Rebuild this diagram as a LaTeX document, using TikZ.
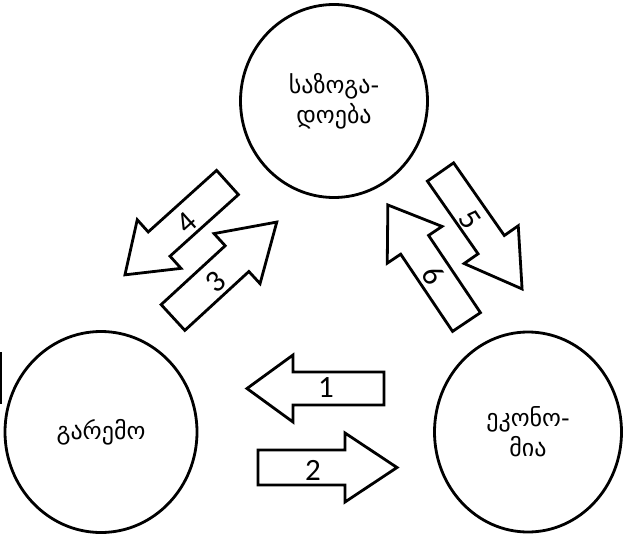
\documentclass[tikz,border=0pt]{standalone}
\usepackage{fontspec}
\setmainfont{DejaVu Sans}
\newfontfamily\digitfont{Carlito}
\usetikzlibrary{shapes.geometric}
\tikzset{
  arrowline/.style={line width=2.8pt, line join=miter, fill=white},
  pics/blockarrow/.style n args={4}{code={
    \draw[arrowline] (0,-#2) -- ({#1-#4},-#2) -- ({#1-#4},-#3) -- (#1,0)
      -- ({#1-#4},#3) -- ({#1-#4},#2) -- (0,#2) -- cycle;
  }},
  bubble/.style={draw, ellipse, line width=2.8pt, inner sep=0pt, align=center,
    font=\fontsize{24}{30}\selectfont},
  numlabel/.style={font=\digitfont\fontsize{31}{31}\selectfont, inner sep=0pt}
}
\begin{document}
\begin{tikzpicture}[x=1pt,y=-1pt]
\useasboundingbox (0,0) rectangle (623,535);
% circles
\node[bubble, minimum width=187pt, minimum height=193pt] (soc) at (334,101) {საზოგა-\\დოება};
\node[bubble, minimum width=192pt, minimum height=201pt] (env) at (101,432) {გარემო};
\node[bubble, minimum width=187pt, minimum height=200pt] (eco) at (528,432) {ეკონო-\\მია};
% left edge fragment
\draw[line width=2.5pt] (1,352) -- (1,404);
% block arrows
\pic (a1) [shift={(384,388.5)}, rotate=180] {blockarrow={137}{16.5}{33.5}{46}};
\pic (a2) [shift={(258,467.5)}, rotate=0] {blockarrow={139}{17.5}{34.5}{52}};
\pic (a4) [shift={(227.5,182.5)}, rotate=222] {blockarrow={138}{16.3}{32.7}{46}};
\pic (a3) [shift={(173,317.5)}, rotate=42.6] {blockarrow={141}{17.5}{34}{54}};
\pic (a5) [shift={(440.5,172)}, rotate=-55.1] {blockarrow={142.6}{16}{33}{54}};
\pic (a6) [shift={(466.5,322)}, rotate=123.9] {blockarrow={141}{16.8}{33}{48}};
% labels
\node[numlabel] (n1) at (326,388) {1};
\node[numlabel] (n2) at (313,470) {2};
\node[numlabel, rotate=42] (n4) at (187,223) {4};
\node[numlabel, rotate=42] (n3) at (216,282) {3};
\node[numlabel, rotate=-56] (n5) at (470,220) {5};
\node[numlabel, rotate=-56] (n6) at (433,275) {6};
\end{tikzpicture}
\end{document}
